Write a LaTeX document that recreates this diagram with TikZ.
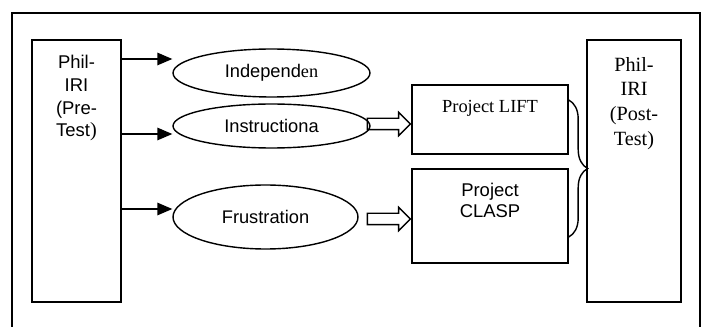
\documentclass[tikz,border=0pt]{standalone}
\usepackage{fontspec}
\setmainfont{Liberation Serif}
\setsansfont{Liberation Sans}
\usepackage{tikz}
\usetikzlibrary{shapes.geometric}
\usetikzlibrary{shapes.arrows}
\usetikzlibrary{arrows.meta}
\usetikzlibrary{decorations.pathreplacing}
\tikzset{
  level node/.style={ellipse,draw,inner sep=0pt,font=\sffamily\fontsize{10.4}{13}\selectfont},
  test box/.style={rectangle,draw,inner sep=0pt,minimum height=5.24cm},
  project box/.style={rectangle,draw,inner sep=0pt,minimum width=3.12cm},
  box text/.style={anchor=north,inner sep=0pt,align=center},
  hollow arrow/.style={single arrow,draw,inner sep=0.1cm,minimum height=0.86cm,
    minimum width=0.44cm,single arrow head extend=0.12cm,anchor=tip}
}

\begin{document}
\begin{tikzpicture}[x=0.02cm,y=-0.02cm,line width=0.8pt,>={Triangle[length=0.3cm,width=0.25cm]}]
    \useasboundingbox (0,0) rectangle (702,327);
    \clip (0,0) rectangle (702,327);
    \draw (12,13) rectangle (700,360);

    % pre-test and post-test
    \node[test box,minimum width=1.78cm] (pre) at (76.5,171) {};
    \node[box text,font=\sffamily\fontsize{10.5}{13}\selectfont] (pretext) at ([yshift=-0.3cm]pre.north)
        {Phil-\\IRI\\(Pre-\\Test{\rmfamily\fontsize{11.5}{13}\selectfont)}};
    \node[test box,minimum width=1.88cm] (post) at (634,171) {};
    \node[box text,font=\rmfamily\fontsize{11.5}{14.2}\selectfont] (posttext) at ([yshift=-0.34cm]post.north)
        {Phil-\\IRI\\(Post-\\Test)};

    % reading levels
    \node[level node,minimum width=3.94cm,minimum height=0.96cm] (indep) at (271.5,73) {Independ{\rmfamily en}};
    \node[level node,minimum width=3.94cm,minimum height=0.88cm] (instr) at (271.5,126) {Instructiona};
    \node[level node,minimum width=3.7cm,minimum height=1.28cm] (frus) at (265.5,217) {Frustration};

    % projects
    \node[project box,minimum height=1.38cm] (lift) at (490,119.5) {};
    \node[box text,font=\rmfamily\fontsize{10.5}{13}\selectfont] (lifttext) at ([yshift=-0.3cm]lift.north) {Project LIFT};
    \node[project box,minimum height=1.88cm] (clasp) at (490,216) {};
    \node[box text,font=\sffamily\fontsize{10.5}{12}\selectfont] (clasptext) at ([yshift=-0.28cm]clasp.north) {Project\\CLASP};

    \draw[->] (pre.east |- 0,59) -- (indep.west |- 0,59);
    \draw[->] (pre.east |- 0,134) -- (instr.west |- 0,134);
    \draw[->] (pre.east |- 0,209) -- (frus.west |- 0,209);

    \node[hollow arrow] (liftarrow) at (lift.west |- 0,124) {};
    \node[hollow arrow] (clasparrow) at (clasp.west |- 0,219) {};

    \draw[decorate,decoration={brace,amplitude=0.38cm}] (lift.east |- 0,100) -- (clasp.east |- 0,237);
\end{tikzpicture}
\end{document}
